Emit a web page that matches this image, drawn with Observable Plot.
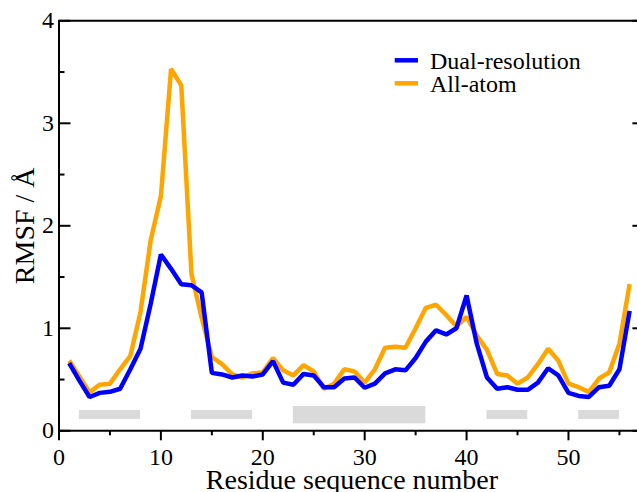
<!DOCTYPE html>
<html><head><meta charset="utf-8">
<script src="https://cdn.jsdelivr.net/npm/d3@7"></script>
<script src="https://cdn.jsdelivr.net/npm/@observablehq/plot@0.6"></script>
<style>
body{margin:0;background:#fff}
#chart{position:relative;width:637px;height:492px;overflow:hidden}
</style>
</head><body><div id="chart"></div>
<script>
const residues = d3.range(1, 57);
const dualResolution = [0.66,0.49,0.33,0.37,0.38,0.41,0.60,0.80,1.24,1.72,
  1.58,1.43,1.42,1.35,0.565,0.55,0.52,0.54,0.53,0.55,
  0.68,0.47,0.45,0.555,0.54,0.425,0.425,0.51,0.52,0.42,
  0.46,0.56,0.60,0.59,0.71,0.87,0.98,0.94,1.00,1.32,
  0.85,0.52,0.41,0.425,0.40,0.40,0.47,0.61,0.54,0.37,
  0.34,0.33,0.425,0.44,0.60,1.17];
const allAtom = [0.685,0.53,0.376,0.45,0.46,0.60,0.73,1.16,1.86,2.29,
  3.53,3.37,1.53,1.10,0.72,0.65,0.55,0.52,0.56,0.57,
  0.71,0.59,0.54,0.64,0.58,0.41,0.46,0.60,0.58,0.47,
  0.60,0.81,0.82,0.81,1.00,1.20,1.23,1.13,1.02,1.11,
  0.93,0.79,0.555,0.54,0.46,0.52,0.65,0.80,0.685,0.46,
  0.425,0.38,0.51,0.57,0.85,1.43];
const seriesNames = ["Dual-resolution", "All-atom"];
const seriesColors = ["#0000ff", "#ffa500"];
// secondary-structure bars
const ssStart = [2, 13, 23, 42, 51];
const ssEnd = [8, 19, 36, 46, 55];
const ssLow = [0.11, 0.11, 0.068, 0.11, 0.11];
const ssHigh = [0.198, 0.198, 0.237, 0.198, 0.198];
const xTicks = [0, 10, 20, 30, 40, 50];
const xMinor = [5, 15, 25, 35, 45, 55];
const yTicks = [0, 1, 2, 3, 4];
const yMinor = [0.5, 1.5, 2.5, 3.5];
const xTitle = "Residue sequence number";
const yTitle = "RMSF / Å";

const data = residues.map((r, i) => ({r, dual: dualResolution[i], all: allAtom[i]}));
const bars = ssStart.map((s, i) => ({x1: s, x2: ssEnd[i], y1: ssLow[i], y2: ssHigh[i]}));

const W = 637, H = 492, mL = 58.5, mR = -7.4, mT = 20.3, mB = 61.7;
const fw = W - mL - mR;
const font = "'Liberation Serif','Times New Roman',serif";

const plot = Plot.plot({
  width: W, height: H,
  marginLeft: mL, marginRight: mR, marginTop: mT, marginBottom: mB,
  style: {fontFamily: font, background: "white", color: "black"},
  x: {domain: [0, 57.5], range: [mL, W - mR]},
  y: {domain: [0, 4], range: [H - mB, mT]},
  marks: [
    Plot.rect(bars, {x1: "x1", x2: "x2", y1: "y1", y2: "y2", fill: "#dadada"}),
    Plot.line(data, {x: "r", y: "all", stroke: seriesColors[1], strokeWidth: 4.5, strokeLinejoin: "miter", strokeLinecap: "butt"}),
    Plot.line(data, {x: "r", y: "dual", stroke: seriesColors[0], strokeWidth: 4.5, strokeLinejoin: "miter", strokeLinecap: "butt"}),
    Plot.ruleY([0, 4], {strokeWidth: 2}),
    Plot.ruleX([0], {y1: 0, y2: 4, strokeWidth: 2}),
    Plot.tickY(yTicks, {y: d => d, insetRight: fw - 12, strokeWidth: 2}),
    Plot.tickY(yMinor, {y: d => d, insetRight: fw - 6, strokeWidth: 2}),
    Plot.tickY(yTicks, {y: d => d, insetLeft: fw - 12, strokeWidth: 2}),
    Plot.tickY(yMinor, {y: d => d, insetLeft: fw - 6, strokeWidth: 2}),
    Plot.axisX({ticks: xTicks, tickSize: 10, tickPadding: 7, fontSize: 24, tickFormat: d => String(d), strokeWidth: 2, label: null}),
    Plot.axisX({ticks: xMinor, tickSize: 5, tickFormat: () => "", strokeWidth: 2, label: null}),
    Plot.axisY({ticks: yTicks, tickSize: 0, tickPadding: 5, fontSize: 24, tickFormat: d => String(d), label: null}),
    Plot.text([xTitle], {frameAnchor: "bottom", textAnchor: "middle", lineAnchor: "bottom", dy: 58, fontSize: 28, fill: "black"}),
    Plot.text([yTitle], {frameAnchor: "left", textAnchor: "middle", lineAnchor: "bottom", rotate: -90, dx: -25, fontSize: 28, fill: "black"})
  ]
});

const svg = d3.select(plot);
seriesNames.forEach((name, i) => {
  const y = 60.3 + i * 23;
  svg.append("line").attr("x1", 394.7).attr("x2", 418).attr("y1", y).attr("y2", y)
    .attr("stroke", seriesColors[i]).attr("stroke-width", 4.5);
  svg.append("text").attr("x", 430).attr("y", y + 8.7).text(name)
    .attr("text-anchor", "start")
    .attr("font-size", 24).attr("font-family", font).attr("fill", "black");
});

document.getElementById("chart").appendChild(plot);
</script>
</body></html>
